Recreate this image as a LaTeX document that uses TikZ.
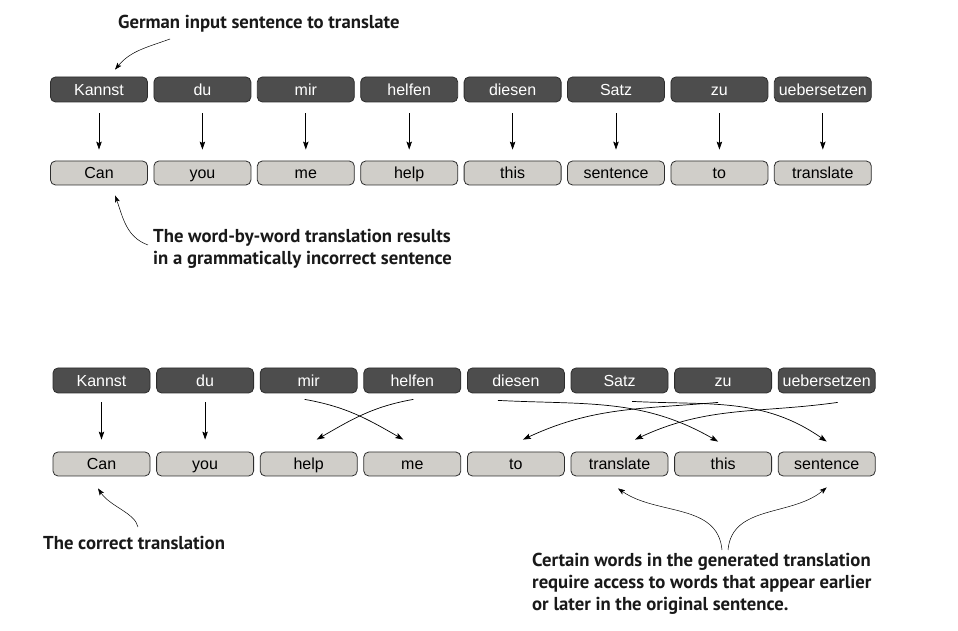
\documentclass[tikz,border=0pt]{standalone}
\usepackage{fontspec}
\setmainfont{Liberation Sans}
\newfontfamily\annfont{PT Sans}
\usetikzlibrary{arrows.meta}
\definecolor{darkbox}{RGB}{77,77,77}
\definecolor{lightbox}{RGB}{208,206,201}
\definecolor{boxedge}{RGB}{45,45,45}
\definecolor{anntext}{RGB}{25,25,25}
\begin{document}
\begin{tikzpicture}[x=1pt,y=1pt,
 word/.style={rounded corners=5pt, minimum width=97pt, minimum height=25pt, inner sep=0pt,
   draw=boxedge, line width=0.8pt, font=\fontsize{16}{16}\selectfont, text height=11.5pt, text depth=0pt},
 src/.style={word, fill=darkbox, text=white},
 tgt/.style={word, fill=lightbox, text=black, minimum height=24pt},
 arr/.style={-{Stealth[length=8pt,width=5.5pt,inset=1.5pt]}, line width=0.7pt},
 ann/.style={font=\annfont\bfseries\fontsize{18.7}{22}\selectfont, text=anntext, align=left, inner sep=0pt, anchor=west},
 note/.style={-{Stealth[length=7pt,width=5pt,inset=1.5pt]}, line width=0.5pt}]
\useasboundingbox (0,0) rectangle (958,631);

% ---- first diagram ----
\foreach \w [count=\i from 0] in {Kannst,du,mir,helfen,diesen,Satz,zu,uebersetzen}
  \node[src] (s\i) at ({99+103.4*\i},541.5) {\w};
\foreach \w [count=\i from 0] in {Can,you,me,help,this,sentence,to,translate}
  \node[tgt] (t\i) at ({99+103.4*\i},458) {\w};
\foreach \i in {0,...,7}
  \draw[arr, shorten <=11pt, shorten >=11pt] (s\i) -- (t\i);

\node[ann] (a1) at (118,607) {German input sentence to translate};
\coordinate (a1s) at (170,592);
\draw[note] (a1s) to[out=200,in=50] ([xshift=16pt,yshift=7pt]s0.north);

\node[ann] (a2) at (153,382) {The word-by-word translation results\\in a grammatically incorrect sentence};
\coordinate (a2s) at (148,386);
\draw[note] (a2s) to[out=160,in=-70] ([xshift=16pt,yshift=-10pt]t0.south);

% ---- second diagram ----
\foreach \w [count=\i from 0] in {Kannst,du,mir,helfen,diesen,Satz,zu,uebersetzen}
  \node[src] (u\i) at ({101.5+103.6*\i},250.5) {\w};
\foreach \w [count=\i from 0] in {Can,you,help,me,to,translate,this,sentence}
  \node[tgt] (v\i) at ({101.5+103.6*\i},167) {\w};
\draw[arr, shorten <=9pt, shorten >=12pt] (u0) -- (v0);
\draw[arr, shorten <=9pt, shorten >=12pt] (u1) -- (v1);
% mir -> me
\draw[arr] ([xshift=-4pt,yshift=-6pt]u2.south) to[out=-10,in=150] ([xshift=-9pt,yshift=12pt]v3.north);
% helfen -> help
\draw[arr] ([xshift=1pt,yshift=-6pt]u3.south) to[out=190,in=30] ([xshift=8pt,yshift=12pt]v2.north);
% diesen -> this
\draw[arr] ([xshift=-18pt,yshift=-7pt]u4.south) to[out=-3,in=150] ([xshift=-5pt,yshift=10pt]v6.north);
% Satz -> sentence
\draw[arr] ([xshift=12.5pt,yshift=-8pt]u5.south) to[out=-3,in=145] ([yshift=10pt]v7.north);
% zu -> to
\draw[arr] ([xshift=-5pt,yshift=-9pt]u6.south) to[out=185,in=25] ([xshift=7pt,yshift=12pt]v4.north);
% uebersetzen -> translate
\draw[arr] ([xshift=11pt,yshift=-9pt]u7.south) to[out=188,in=25] ([xshift=15.5pt,yshift=12pt]v5.north);

\node[ann] (a3) at (43,88) {The correct translation};
\coordinate (a3s) at (138,104);
\draw[note] (a3s) .. controls +(-3,14) and +(12,-18) .. ([xshift=-3.5pt,yshift=-12pt]v0.south);

\node[ann] (a4) at (532,47) {Certain words in the generated translation\\require access to words that appear earlier\\or later in the original sentence.};
\coordinate (a4l) at (722,81);
\coordinate (a4r) at (728,81);
\draw[note] (a4l) to[out=95,in=-35] ([xshift=-1.5pt,yshift=-12pt]v5.south);
\draw[note] (a4r) to[out=85,in=-140] ([yshift=-11pt]v7.south);
\end{tikzpicture}
\end{document}
